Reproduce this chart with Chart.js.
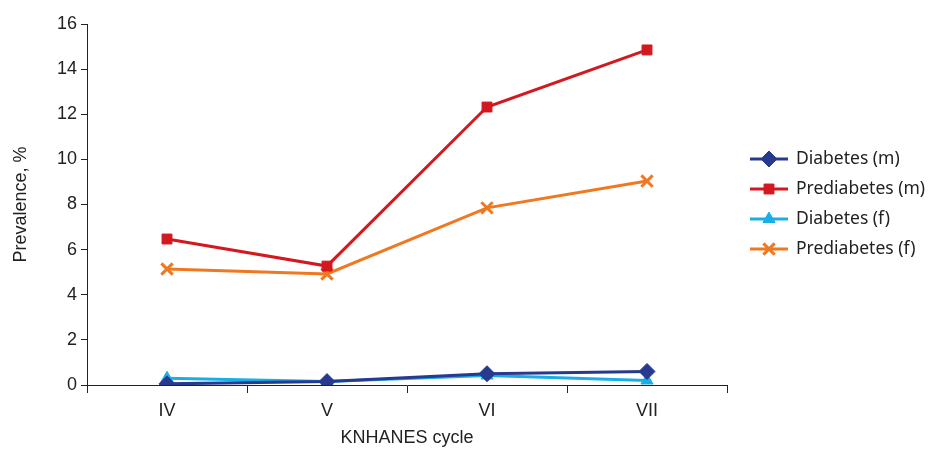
<!DOCTYPE html>
<html>
<head>
<meta charset="utf-8">
<script src="https://cdn.jsdelivr.net/npm/chart.js@4"></script>
<style>
  html, body { margin: 0; padding: 0; background: #fff; }
  #wrap { width: 931px; height: 453px; }
</style>
</head>
<body>
<div id="wrap"><canvas id="prevChart" width="931" height="453"></canvas></div>
<script>
// data
const cycles = ['IV', 'V', 'VI', 'VII'];
const diabetesM = [0.05, 0.15, 0.5, 0.6];
const prediabetesM = [6.47, 5.27, 12.32, 14.85];
const diabetesF = [0.3, 0.15, 0.42, 0.2];
const prediabetesF = [5.14, 4.92, 7.85, 9.04];
const yTicks = [0, 2, 4, 6, 8, 10, 12, 14, 16];

const axisFont = { family: 'Liberation Sans, Arial, sans-serif', size: 18 };
const legendFont = '17.5px "Noto Sans", "Open Sans", sans-serif';

// legend drawn with a line through the marker, like the original
const lineLegend = {
    id: 'lineLegend',
    afterDraw(chart) {
        const ctx = chart.ctx;
        const x0 = 750, x1 = 788, textX = 796;
        let y = 159;
        chart.data.datasets.forEach(ds => {
            ctx.save();
            ctx.strokeStyle = ds.borderColor;
            ctx.fillStyle = ds.borderColor;
            ctx.lineWidth = 3;
            ctx.beginPath();
            ctx.moveTo(x0, y);
            ctx.lineTo(x1, y);
            ctx.stroke();
            ctx.lineWidth = ds.pointBorderWidth;
            Chart.helpers.drawPoint(ctx, {
                pointStyle: ds.pointStyle,
                radius: ds.pointRadius,
                borderWidth: ds.pointBorderWidth
            }, (x0 + x1) / 2, y);
            ctx.fillStyle = '#222';
            ctx.font = legendFont;
            ctx.textBaseline = 'middle';
            ctx.fillText(ds.label, textX, y);
            ctx.restore();
            y += 30;
        });
    }
};

const mkSet = (label, data, color, style, r) => ({
    label: label,
    data: data,
    borderColor: color,
    backgroundColor: color,
    pointBackgroundColor: color,
    pointBorderColor: color,
    pointStyle: style,
    pointRadius: r,
    pointHoverRadius: r,
    pointBorderWidth: style === 'crossRot' ? 3 : 1,
    borderWidth: 3,
    tension: 0,
    fill: false
});

new Chart(document.getElementById('prevChart'), {
    type: 'line',
    data: {
        labels: cycles,
        datasets: [
            mkSet('Diabetes (m)', diabetesM, '#283a8f', 'rectRot', 8),
            mkSet('Prediabetes (m)', prediabetesM, '#d3181f', 'rect', 7),
            mkSet('Diabetes (f)', diabetesF, '#1aaee6', 'triangle', 7),
            mkSet('Prediabetes (f)', prediabetesF, '#f07820', 'crossRot', 8)
        ]
    },
    options: {
        responsive: false,
        animation: false,
        layout: { padding: { top: 24, right: 204, left: 6, bottom: 0 } },
        plugins: { legend: { display: false }, tooltip: { enabled: false } },
        scales: {
            x: {
                offset: true,
                grid: { offset: true, drawOnChartArea: false, tickLength: 8, color: '#222', lineWidth: 1 },
                border: { color: '#222', width: 1 },
                ticks: { color: '#222', font: axisFont, padding: 7 },
                title: { display: true, text: 'KNHANES cycle', color: '#222', font: axisFont, padding: { top: 10 } },
                afterFit(s) { s.height = 68; }
            },
            y: {
                min: 0,
                max: 16,
                afterBuildTicks(s) { s.ticks = yTicks.map(v => ({ value: v })); },
                grid: { drawOnChartArea: false, tickLength: 6, color: '#222' },
                border: { color: '#222', width: 1 },
                ticks: { color: '#222', font: axisFont, padding: 4 },
                title: { display: true, text: 'Prevalence, %', color: '#222', font: axisFont, padding: { bottom: 8 } },
                afterFit(s) { s.width = 81; }
            }
        }
    },
    plugins: [lineLegend]
});
</script>
</body>
</html>
